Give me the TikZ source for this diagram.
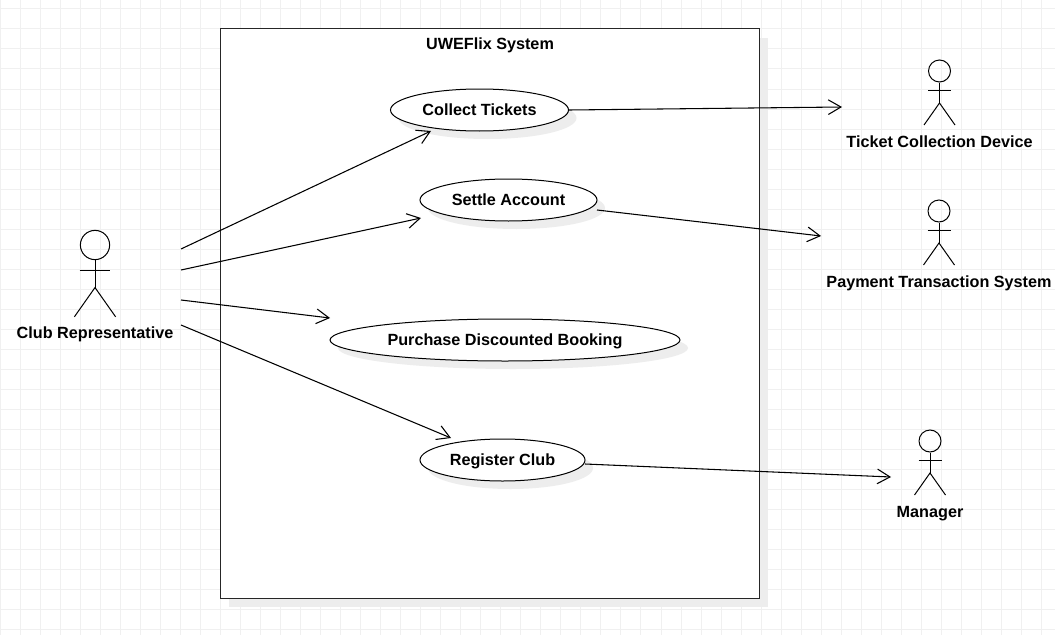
\documentclass[tikz,border=0pt]{standalone}
\usepackage{fontspec}
\setmainfont{Liberation Sans}
\usetikzlibrary{shapes.geometric,arrows.meta,shadows,positioning}
\tikzset{
  gridline/.style={draw=black!6,line width=0.75pt},
  usecase/.style={ellipse,draw=black,fill=white,line width=0.75pt,inner sep=0pt,
    drop shadow={shadow xshift=6pt,shadow yshift=-6pt,fill=black!7,opacity=1}},
  nametext/.style={font=\fontsize{12.15}{14}\bfseries\selectfont,inner sep=0pt,text height=9pt,text depth=1.5pt},
  assoc/.style={-{Straight Barb[length=9.5pt,width=11pt]},line width=0.8pt}
}
\begin{document}
\begin{tikzpicture}[x=0.75pt,y=-0.75pt]
\useasboundingbox (0,0) rectangle (1055,635);
\fill[white] (0,0) rectangle (1055,635);
% grid
\foreach \i in {0,...,52} \draw[gridline] (20.03*\i,0) -- (20.03*\i,635);
\foreach \j in {0,...,31} \draw[gridline] (0,9+20*\j) -- (1055,9+20*\j);

% system box
\node (system) [draw=black!85,fill=white,line width=0.75pt,inner sep=0pt,
    minimum width=404.25pt,minimum height=426.75pt,
    drop shadow={shadow xshift=6.75pt,shadow yshift=-6.75pt,fill=black!7,opacity=1}]
    at (489.5,313.5) {};
\node (systemname) [nametext] at (490,45) {UWEFlix System};

% use cases
\begin{scope}[every node/.append style={usecase,nametext,inner sep=0pt}]
    \node (collect) [minimum width=133.5pt,minimum height=31.5pt] at (479.5,110) {Collect Tickets};
    \node (settle) [minimum width=132.75pt,minimum height=31.5pt] at (508.5,200) {Settle Account};
    \node (purchase) [minimum width=262.5pt,minimum height=31.5pt] at (505,340) {Purchase Discounted Booking};
    \node (register) [minimum width=123.75pt,minimum height=31.5pt] at (502.5,460) {Register Club};
\end{scope}

% actors
\foreach \name/\x/\y/\s/\offs/\txt in {
    club/95/245/1.33/88/Club Representative,
    ticket/939.5/71/1/71/Ticket Collection Device,
    payment/939/211/1/71/Payment Transaction System,
    manager/930/441/1/71/Manager} {
  \node (\name) [circle,draw=black,line width=0.75pt,inner sep=0pt,minimum size=16.5pt*\s] at (\x,\y) {};
  \coordinate (\name hip) at (\x,\y+32*\s);
  \draw[line width=0.75pt] (\name.south) -- (\name hip);
  \draw[line width=0.75pt] (\x-11.5*\s,\y+19*\s) -- (\x+11.5*\s,\y+19*\s);
  \draw[line width=0.75pt] (\x-15.5*\s,\y+54*\s) -- (\name hip) -- (\x+15.5*\s,\y+54*\s);
  \node (\name text) [nametext] at (\x,\y+\offs) {\txt};
}

% free ends of the connectors
\coordinate (clubA) at (181,249);
\coordinate (clubB) at (181,270);
\coordinate (clubC) at (181,300);
\coordinate (clubD) at (181,325);
\coordinate (collectin) at (431,131);
\coordinate (settlein) at (421,218);
\coordinate (purchasein) at (330,318);
\coordinate (registerin) at (451,438);
\coordinate (ticketin) at (842,107);
\coordinate (paymentin) at (821,236);
\coordinate (managerin) at (891,477);
\coordinate (settleout) at (597,210);
\coordinate (registerout) at (585,464);

\begin{scope}[every path/.style={assoc}]
    \draw (clubA) -- (collectin);
    \draw (clubB) -- (settlein);
    \draw (clubC) -- (purchasein);
    \draw (clubD) -- (registerin);
    \draw (collect.east) -- (ticketin);
    \draw (settleout) -- (paymentin);
    \draw (registerout) -- (managerin);
\end{scope}
\end{tikzpicture}
\end{document}
